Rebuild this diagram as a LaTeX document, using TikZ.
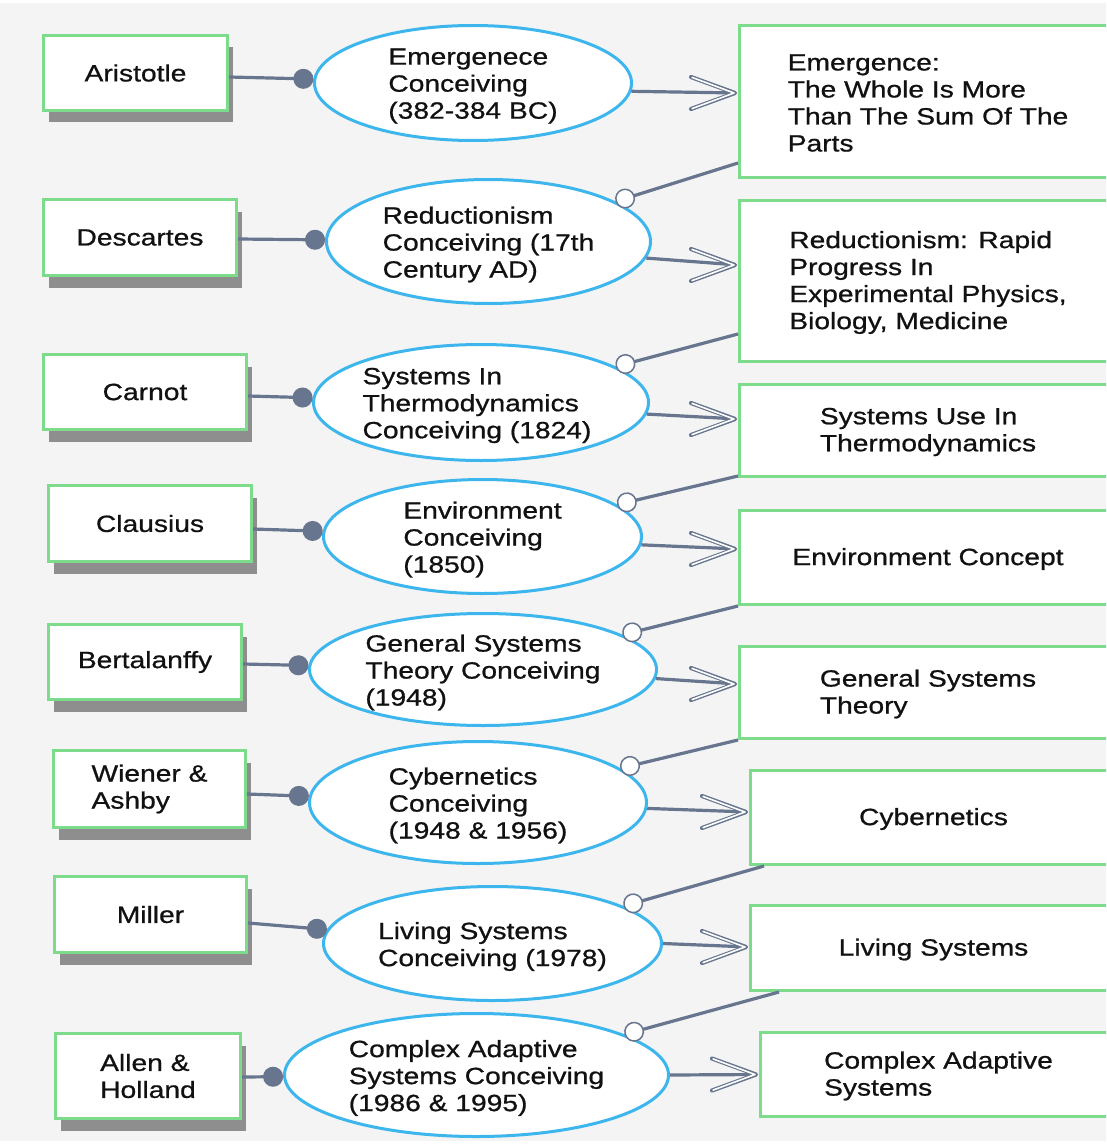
\documentclass[tikz,border=0pt]{standalone}
\usepackage{fontspec}
\setmainfont{Liberation Sans}[FakeStretch=1.2,FakeBold=0.8]
\usetikzlibrary{shapes.geometric,arrows.meta,shadows}
\definecolor{bgcol}{HTML}{F4F4F4}
\definecolor{boxgreen}{HTML}{7DDC8C}
\definecolor{ellblue}{HTML}{3CB6EC}
\definecolor{slate}{HTML}{67758F}
\definecolor{shadowgray}{HTML}{8E8E8E}
\definecolor{inkcol}{HTML}{111111}
\begin{document}
\begin{tikzpicture}[x=1pt,y=-1pt,
  txt/.style={font=\fontsize{23.5pt}{27pt}\selectfont, text=inkcol, align=left,
    inner sep=0pt},
  ideatxt/.style={txt, yshift=-3pt},
  resulttxt/.style={txt, yshift=-1.5pt},
  person/.style={rectangle, draw=boxgreen, line width=3pt, fill=white, inner sep=0pt,
    drop shadow={shadow xshift=5pt, shadow yshift=-12pt, fill=shadowgray, opacity=1}},
  idea/.style={ellipse, draw=ellblue, line width=3pt, fill=white, inner sep=0pt},
  result/.style={rectangle, draw=boxgreen, line width=3pt, fill=white,
    inner sep=0pt, minimum width=377pt},
  assoc/.style={draw=slate, line width=3.2pt, -{Circle[length=20pt, fill=slate]}},
  aggr/.style={draw=slate, line width=3.2pt, -{Circle[length=20pt, fill=white, line width=1.5pt]}},
  flow/.style={draw=slate, line width=3.2pt, shorten >=6pt},
  chevron/.pic={
    \draw[slate, line width=4.2pt, line join=round, line cap=round]
      (-44,-16) -- (0,0) -- (-44,16);
    \draw[white, line width=1.6pt, line join=round, line cap=round]
      (-43,-15.6) -- (-1,0) -- (-43,15.6);
  },
]
\useasboundingbox (0,0) rectangle (1106,1145);
\clip (0,0) rectangle (1106,1145);
\fill[bgcol] (0,0) rectangle (1106,1145);
\fill[white] (0,1141) rectangle (1106,1145);
\fill[white] (0,0) rectangle (1106,3);

% outcome boxes (right column, running off the page edge)
\node[result, minimum height=152pt] (r1) at (928,101.5) {};
\node[result, minimum height=161pt] (r2) at (928,281) {};
\node[result, minimum height=92pt] (r3) at (928,430.5) {};
\node[result, minimum height=94pt] (r4) at (928,557.5) {};
\node[result, minimum height=92pt] (r5) at (928,692.5) {};
\node[result, minimum height=94pt, minimum width=366pt] (r6) at (933.5,817.5) {};
\node[result, minimum height=85pt, minimum width=366pt] (r7) at (933.5,948) {};
\node[result, minimum height=84pt, minimum width=356pt] (r8) at (938.5,1074.5) {};

% thinkers (left column)
\node[person, minimum width=184pt, minimum height=75pt] (a1) at (135.5,73) {};
\node[person, minimum width=193pt, minimum height=76pt] (a2) at (140,237.5) {};
\node[person, minimum width=203pt, minimum height=75pt] (a3) at (145,392) {};
\node[person, minimum width=203pt, minimum height=76pt] (a4) at (150,523.5) {};
\node[person, minimum width=193pt, minimum height=75pt] (a5) at (145,662) {};
\node[person, minimum width=192pt, minimum height=77pt] (a6) at (149.5,789) {};
\node[person, minimum width=192pt, minimum height=76pt] (a7) at (150.5,914.5) {};
\node[person, minimum width=185pt, minimum height=85pt] (a8) at (148,1076) {};

% conceiving ellipses (middle column)
\node[idea, minimum width=317pt, minimum height=115pt] (e1) at (473,83) {};
\node[idea, minimum width=324pt, minimum height=124pt] (e2) at (488.5,241.5) {};
\node[idea, minimum width=335pt, minimum height=116pt] (e3) at (481,402.5) {};
\node[idea, minimum width=318pt, minimum height=114pt] (e4) at (482.5,536.5) {};
\node[idea, minimum width=347pt, minimum height=112pt] (e5) at (483,669.5) {};
\node[idea, minimum width=337pt, minimum height=122pt] (e6) at (478,802.5) {};
\node[idea, minimum width=338pt, minimum height=114pt] (e7) at (492.5,943.5) {};
\node[idea, minimum width=384pt, minimum height=123pt] (e8) at (476.5,1075) {};

% thinker -> conceiving
\draw[assoc] ([yshift=-4pt]a1.east) -- (e1);
\draw[assoc] ([yshift=-1.5pt]a2.east) -- (e2);
\draw[assoc] ([yshift=-4pt]a3.east) -- (e3);
\draw[assoc] ([yshift=-5.5pt]a4.east) -- (e4);
\draw[assoc] ([yshift=-2pt]a5.east) -- (e5);
\draw[assoc] ([yshift=-5pt]a6.east) -- (e6);
\draw[assoc] ([yshift=-8.5pt]a7.east) -- (e7);
\draw[assoc] ([yshift=-1pt]a8.east) -- (e8);

% previous outcome -> next conceiving
\draw[aggr] ([yshift=16pt]r1.south west) -- (e2);
\draw[aggr] ([yshift=29pt]r2.south west) -- (e3);
\draw[aggr] ([yshift=2pt]r3.south west) -- (e4);
\draw[aggr] (r4.south west) -- (e5);
\draw[aggr] (r5.south west) -- (e6);
\draw[aggr] ([xshift=15pt]r6.south west) -- (e7);
\draw[aggr] ([xshift=30pt]r7.south west) -- (e8);

% conceiving -> outcome
\draw[flow] (e1.-3) -- ([yshift=8.5pt]r1.west);
\draw[flow] (e2.-6) -- ([yshift=16pt]r2.west);
\draw[flow] (e3.-4) -- ([yshift=11.5pt]r3.west);
\draw[flow] (e4.-3) -- ([yshift=8.5pt]r4.west);
\draw[flow] (e5.-3.5) -- ([yshift=8.5pt]r5.west);
\draw[flow] (e6.-2) -- ([yshift=5.5pt]r6.west);
\draw[flow] (e7.east) -- ([yshift=1pt]r7.west);
\draw[flow] (e8.east) -- (r8.west);
\pic at ([xshift=-3pt,yshift=8.5pt]r1.west) {chevron};
\pic at ([xshift=-3pt,yshift=16pt]r2.west) {chevron};
\pic at ([xshift=-3pt,yshift=11.5pt]r3.west) {chevron};
\pic at ([xshift=-3pt,yshift=8.5pt]r4.west) {chevron};
\pic at ([xshift=-3pt,yshift=8.5pt]r5.west) {chevron};
\pic at ([xshift=-3pt,yshift=5.5pt]r6.west) {chevron};
\pic at ([xshift=-3pt,yshift=1pt]r7.west) {chevron};
\pic at ([xshift=-3pt]r8.west) {chevron};

% thinker names
\node[txt] (a1t) at (a1.center) {Aristotle};
\node[txt] (a2t) at (a2.center) {Descartes};
\node[txt] (a3t) at (a3.center) {Carnot};
\node[txt] (a4t) at (a4.center) {Clausius};
\node[txt] (a5t) at (a5.center) {Bertalanffy};
\node[txt] (a6t) at (a6.center) {Wiener \&\\Ashby};
\node[txt] (a7t) at (a7.center) {Miller};
\node[txt] (a8t) at (a8.center) {Allen \&\\Holland};

% ellipse labels
\node[ideatxt] (t1) at (e1.center) {Emergenece\\Conceiving\\(382-384 BC)};
\node[ideatxt] (t2) at (e2.center) {Reductionism\\Conceiving (17th\\Century AD)};
\node[ideatxt] (t3) at ([xshift=-4pt]e3.center) {Systems In\\Thermodynamics\\Conceiving (1824)};
\node[ideatxt] (t4) at (e4.center) {Environment\\Conceiving\\(1850)};
\node[ideatxt] (t5) at (e5.center) {General Systems\\Theory Conceiving\\(1948)};
\node[ideatxt] (t6) at (e6.center) {Cybernetics\\Conceiving\\(1948 \& 1956)};
\node[ideatxt] (t7) at (e7.center) {Living Systems\\Conceiving (1978)};
\node[ideatxt] (t8) at (e8.center) {Complex Adaptive\\Systems Conceiving\\(1986 \& 1995)};

% outcome labels
\node[resulttxt] (r1t) at (r1.center) {Emergence:\\The Whole Is More\\Than The Sum Of The\\Parts};
\node[resulttxt] (r2t) at (r2.center) {Reductionism: Rapid\\Progress In\\Experimental Physics,\\Biology, Medicine};
\node[resulttxt] (r3t) at (r3.center) {Systems Use In\\Thermodynamics};
\node[resulttxt] (r4t) at (r4.center) {Environment Concept};
\node[resulttxt] (r5t) at (r5.center) {General Systems\\Theory};
\node[resulttxt] (r6t) at (r6.center) {Cybernetics};
\node[resulttxt] (r7t) at (r7.center) {Living Systems};
\node[resulttxt] (r8t) at (r8.center) {Complex Adaptive\\Systems};
\end{tikzpicture}
\end{document}
